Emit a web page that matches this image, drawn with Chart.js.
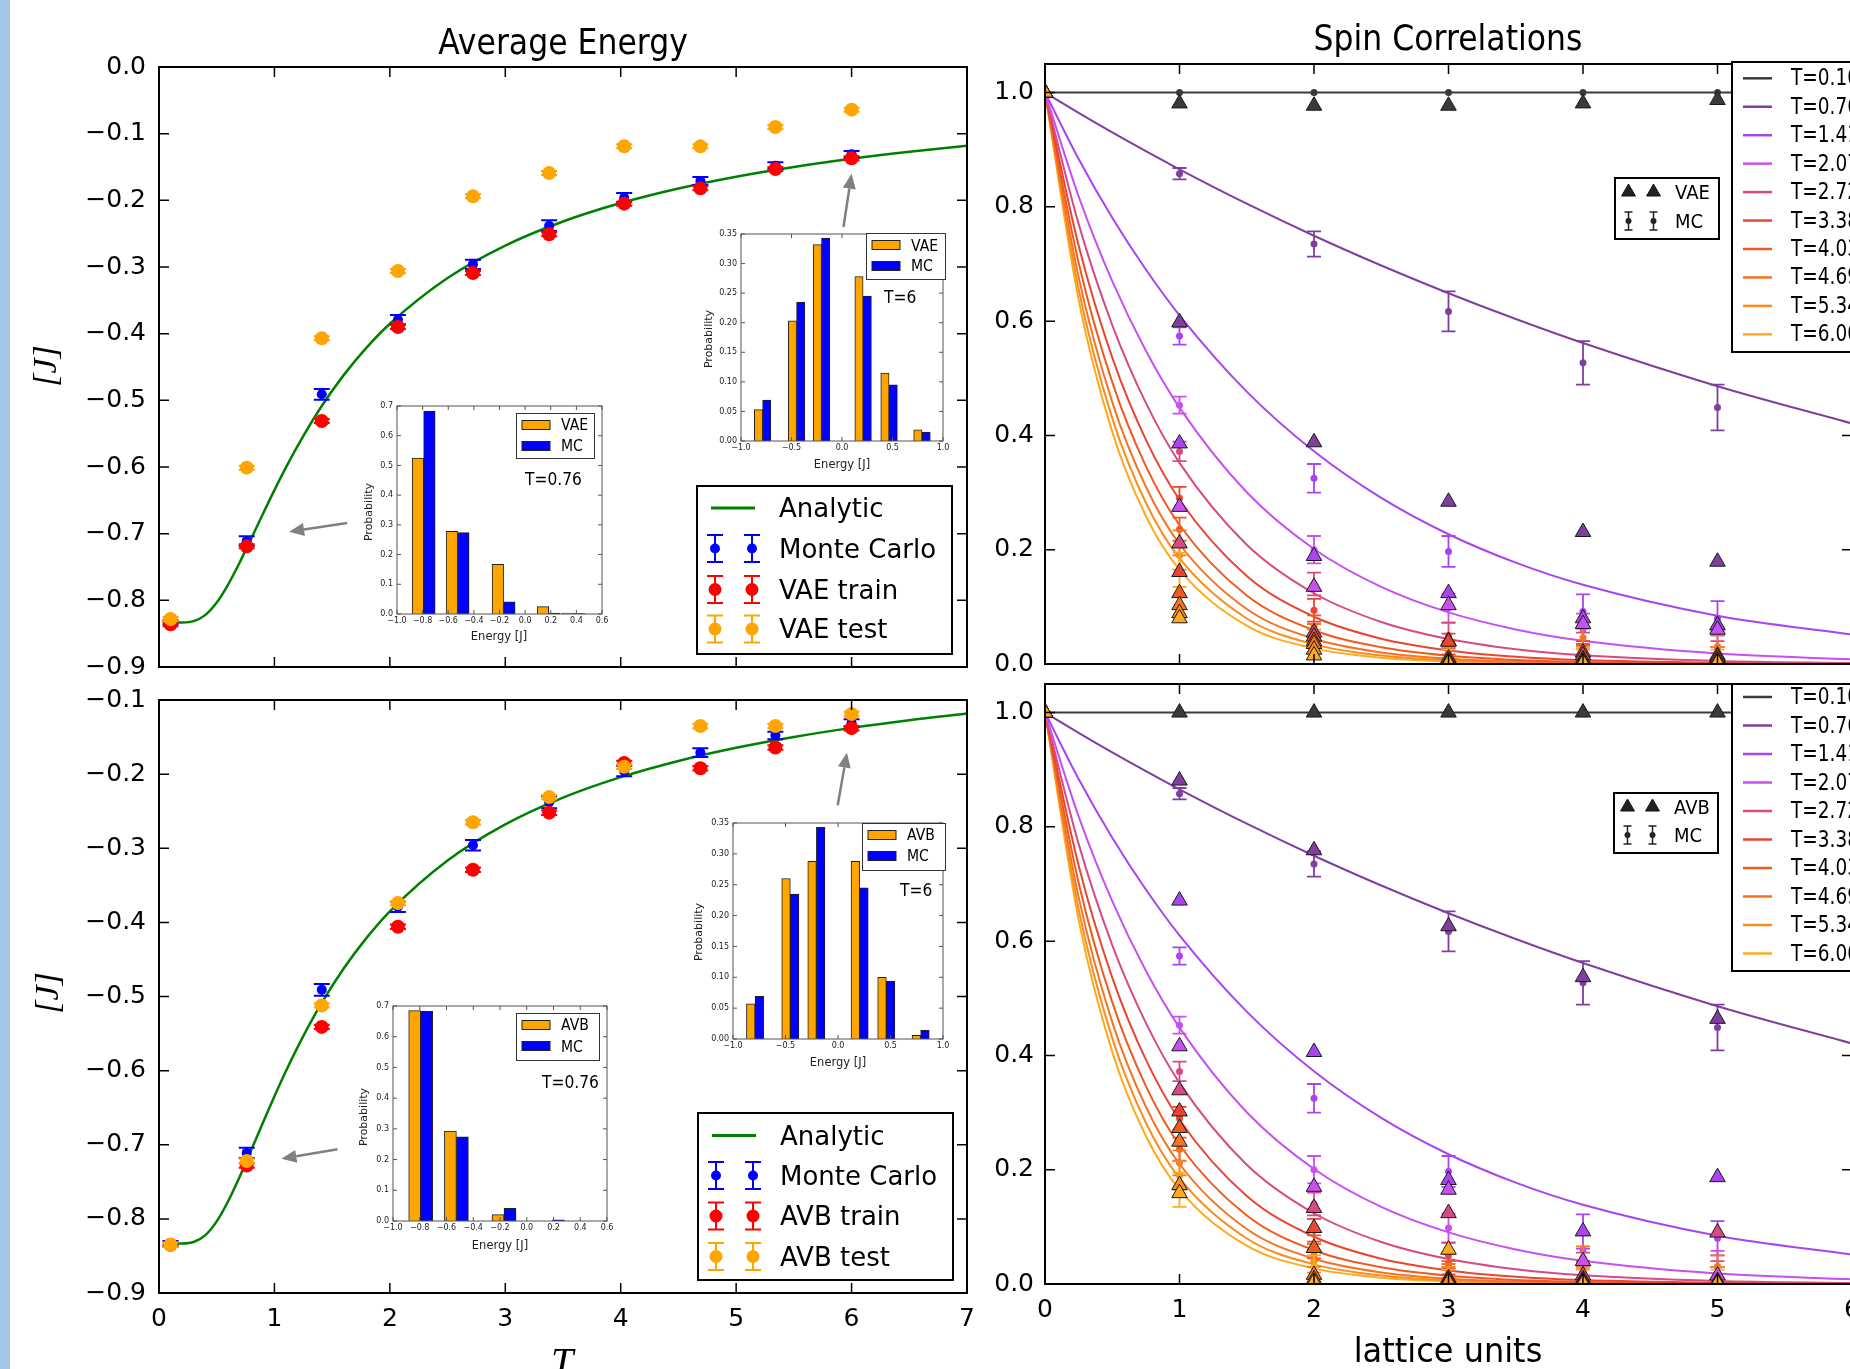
<!DOCTYPE html>
<html>
<head>
<meta charset="utf-8">
<title>Average Energy and Spin Correlations</title>
<script src="https://cdn.jsdelivr.net/npm/chart.js@4.4.1/dist/chart.umd.min.js"></script>
<style>
html,body{margin:0;padding:0;background:#fff;overflow:hidden;width:1850px;height:1369px;}
#stage{position:relative;width:1850px;height:1369px;overflow:hidden;background:#fff;}
.box{position:absolute;}
.box canvas{display:block;}
.txt{position:absolute;white-space:nowrap;color:#000;line-height:1;font-family:'DejaVu Sans',sans-serif;}
.lg{position:absolute;background:#fff;box-sizing:border-box;}
#strip{position:absolute;left:0;top:0;width:10px;height:1369px;background:#a4c6e9;}
#sym{position:absolute;left:0;top:0;}
</style>
</head>
<body>
<div id="stage"><div id="strip"></div></div>
<script>
// ================= DATA =================
const temperatures = [0.10, 0.76, 1.41, 2.07, 2.72, 3.38, 4.03, 4.69, 5.34, 6.00];
const temperatureLabels = ['T=0.10','T=0.76','T=1.41','T=2.07','T=2.72','T=3.38','T=4.03','T=4.69','T=5.34','T=6.00'];

// Average energy (left panels)
const analyticT = [0.1,0.2,0.3,0.4,0.5,0.6,0.7,0.8,0.9,1.0,1.1,1.2,1.4,1.6,1.8,2.0,2.5,3.0,3.5,4.0,4.5,5.0,5.5,6.0,6.5,7.0];
const analyticEnergy = [-0.8333,-0.8332,-0.8312,-0.8222,-0.8034,-0.7759,-0.7428,-0.7069,-0.6704,-0.6347,-0.6006,-0.5686,-0.5111,-0.4622,-0.4206,-0.3851,-0.3166,-0.2679,-0.2318,-0.2041,-0.1822,-0.1645,-0.1499,-0.1376,-0.1272,-0.1183];
const mcEnergy = [-0.833,-0.711,-0.491,-0.379,-0.296,-0.238,-0.196,-0.171,-0.148,-0.131];
const mcEnergyErr = [0.003,0.007,0.008,0.007,0.007,0.008,0.007,0.006,0.005,0.005];
const vaeTrainEnergy = [-0.836,-0.719,-0.531,-0.390,-0.309,-0.251,-0.205,-0.182,-0.153,-0.137];
const vaeTestEnergy = [-0.828,-0.601,-0.407,-0.306,-0.194,-0.159,-0.119,-0.119,-0.090,-0.064];
const avbTrainEnergy = [-0.835,-0.728,-0.541,-0.406,-0.329,-0.252,-0.185,-0.192,-0.164,-0.138];
const avbTestEnergy = [-0.835,-0.722,-0.512,-0.374,-0.265,-0.231,-0.190,-0.135,-0.135,-0.119];
const modelEnergyErr = [0.003,0.003,0.003,0.003,0.003,0.003,0.003,0.003,0.003,0.003];
const vaeEnergyNames = ['Analytic','Monte Carlo','VAE train','VAE test'];
const avbEnergyNames = ['Analytic','Monte Carlo','AVB train','AVB test'];
const energyXTicks = [0,1,2,3,4,5,6,7];
const energyYTicksTop = [0.0,-0.1,-0.2,-0.3,-0.4,-0.5,-0.6,-0.7,-0.8,-0.9];
const energyYTicksBottom = [-0.1,-0.2,-0.3,-0.4,-0.5,-0.6,-0.7,-0.8,-0.9];

// Spin correlations (right panels), rows follow temperatures
const latticeDistance = [0,1,2,3,4,5];
const corrR = [0,0.25,0.5,0.75,1,1.5,2,2.5,3,3.5,4,5,6];
const corrAnalytic = [
  [1,1,1,1,1,1,1,1,1,1,1,1,1],
  [1,0.9646,0.9304,0.8975,0.8657,0.8055,0.7494,0.6973,0.6488,0.6037,0.5617,0.4862,0.4209],
  [1,0.8838,0.7811,0.6903,0.6101,0.4766,0.3722,0.2907,0.2271,0.1774,0.1386,0.0845,0.0516],
  [1,0.8184,0.6699,0.5482,0.4487,0.3006,0.2013,0.1349,0.0903,0.0605,0.0405,0.0182,0.0082],
  [1,0.7702,0.5932,0.4569,0.3519,0.2088,0.1238,0.0735,0.0436,0.0258,0.0153,0.0054,0.0019],
  [1,0.7323,0.5362,0.3926,0.2875,0.1542,0.0827,0.0443,0.0238,0.0127,0.0068,0.0020,0.0006],
  [1,0.7023,0.4932,0.3463,0.2432,0.1199,0.0591,0.0292,0.0144,0.0071,0.0035,0.0008,0.0002],
  [1,0.6770,0.4583,0.3102,0.2100,0.0962,0.0441,0.0202,0.0093,0.0042,0.0019,0.0004,0.0001],
  [1,0.6559,0.4302,0.2822,0.1851,0.0796,0.0343,0.0147,0.0063,0.0027,0.0012,0.0002,0.0000],
  [1,0.6374,0.4063,0.2590,0.1651,0.0671,0.0273,0.0111,0.0045,0.0018,0.0007,0.0001,0.0000]
];
const corrMC = [
  [1,1,1,1,1,1],
  [1,0.858,0.735,0.617,0.527,0.449],
  [1,0.574,0.325,0.197,0.092,0.080],
  [1,0.453,0.200,0.098,0.060,0.030],
  [1,0.372,0.140,0.050,0.030,0.015],
  [1,0.290,0.094,0.035,0.020,0.010],
  [1,0.236,0.065,0.025,0.015,0.010],
  [1,0.212,0.050,0.020,0.046,0.030],
  [1,0.190,0.040,0.015,0.010,0.010],
  [1,0.165,0.030,0.010,0.005,0.005]
];
const corrMCErr = [
  [0,0,0,0,0,0],
  [0,0.010,0.022,0.035,0.038,0.040],
  [0,0.015,0.025,0.027,0.030,0.030],
  [0,0.015,0.024,0.025,0.028,0.028],
  [0,0.017,0.020,0.022,0.025,0.025],
  [0,0.020,0.020,0.018,0.020,0.020],
  [0,0.020,0.020,0.015,0.020,0.020],
  [0,0.022,0.020,0.015,0.020,0.020],
  [0,0.025,0.020,0.015,0.020,0.020],
  [0,0.030,0.020,0.015,0.020,0.020]
];
const corrVAE = [
  [1,0.981,0.977,0.977,0.981,0.987],
  [1,0.598,0.388,0.284,0.231,0.179],
  [1,0.386,0.189,0.124,0.080,0.068],
  [1,0.275,0.135,0.103,0.070,0.060],
  [1,0.211,0.055,0.040,0.020,0.015],
  [1,0.161,0.048,0.039,0.015,0.010],
  [1,0.124,0.040,0.010,0.008,0.012],
  [1,0.103,0.035,0.006,0.005,0.008],
  [1,0.089,0.025,0.004,0.004,0.005],
  [1,0.080,0.015,0.002,0.002,0.003]
];
const corrAVB = [
  [1,1,1,1,1,1],
  [1,0.881,0.759,0.626,0.537,0.464],
  [1,0.671,0.406,0.182,0.092,0.187],
  [1,0.416,0.170,0.165,0.040,0.015],
  [1,0.339,0.133,0.124,0.015,0.090],
  [1,0.302,0.098,0.010,0.008,0.005],
  [1,0.273,0.063,0.008,0.005,0.004],
  [1,0.249,0.016,0.005,0.004,0.003],
  [1,0.173,0.008,0.004,0.003,0.002],
  [1,0.159,0.004,0.060,0.002,0.002]
];
const corrXTicks = [0,1,2,3,4,5,6];
const corrYTicks = [0,0.2,0.4,0.6,0.8,1.0];

// Inset histograms
const histBinsVAE076 = [-0.792,-0.527,-0.168,0.184,0.38];
const histVAE076 = [0.525,0.278,0.167,0.025,0.003];
const histMCa076 = [0.683,0.274,0.041,0.003,0.001];
const histBinsVAE6 = [-0.786,-0.450,-0.203,0.209,0.466,0.792];
const histVAE6 = [0.053,0.203,0.332,0.278,0.115,0.019];
const histMCa6 = [0.069,0.235,0.343,0.245,0.095,0.015];
const histBinsAVB076 = [-0.793,-0.526,-0.170,0.192];
const histAVB076 = [0.685,0.293,0.021,0.0];
const histMCb076 = [0.683,0.274,0.041,0.004];
const histBinsAVB6 = [-0.790,-0.454,-0.206,0.206,0.460,0.787];
const histAVB6 = [0.057,0.260,0.288,0.288,0.100,0.006];
const histMCb6 = [0.069,0.235,0.343,0.245,0.094,0.014];
const histXTicks076 = [-1.0,-0.8,-0.6,-0.4,-0.2,0.0,0.2,0.4,0.6];
const histYTicks076 = [0.0,0.1,0.2,0.3,0.4,0.5,0.6,0.7];
const histXTicks6 = [-1.0,-0.5,0.0,0.5,1.0];
const histYTicks6 = [0.0,0.05,0.10,0.15,0.20,0.25,0.30,0.35];

// Annotation arrows (data coordinates: tail x, tail y, head x, head y)
const arrowsTop = [[1.63,-0.684,1.127,-0.697],[5.93,-0.240,6.0,-0.160]];
const arrowsBottom = [[1.547,-0.706,1.061,-0.719],[5.88,-0.242,5.96,-0.171]];

// ================= STYLE =================
const tempColors = ['#3a3a3a','#7f3f9f','#aa44ee','#c850f0','#d64b86','#e84632','#f05a1e','#f57323','#fa8c1e','#fcaa1e'];
const C_GREEN='#008000', C_BLUE='#0000ff', C_RED='#ff0000', C_ORANGE='#ffa500';

Chart.defaults.font.family = "'DejaVu Sans', sans-serif";
Chart.defaults.color = '#000';

function fmt(v, d){ return Number(v).toFixed(d).replace('-', '\u2212'); }
function tickSetter(arr){ return s => { s.ticks = arr.map(v => ({value: v})); }; }

const errorBarPlugin = {
  id: 'errbars',
  beforeDatasetDraw(chart, args){
    const ds = chart.data.datasets[args.index];
    if (!ds.errorBars) return;
    const {ctx, chartArea: a, scales: {x, y}} = chart;
    ctx.save();
    ctx.beginPath(); ctx.rect(a.left, a.top, a.width, a.height); ctx.clip();
    ctx.strokeStyle = ds.errorColor; ctx.lineWidth = ds.errorWidth || 1.5;
    const c = ds.capHalf || 7;
    ds.data.forEach((p, i) => {
      const e = ds.errorBars[i]; if (!e) return;
      const px = x.getPixelForValue(p.x), y1 = y.getPixelForValue(p.y - e), y2 = y.getPixelForValue(p.y + e);
      ctx.beginPath();
      ctx.moveTo(px, y1); ctx.lineTo(px, y2);
      ctx.moveTo(px - c, y1); ctx.lineTo(px + c, y1);
      ctx.moveTo(px - c, y2); ctx.lineTo(px + c, y2);
      ctx.stroke();
    });
    ctx.restore();
  }
};

const framePlugin = {
  id: 'frame',
  beforeDraw(chart, args, o){
    if (!o || !o.bg) return;
    const a = chart.chartArea, ctx = chart.ctx;
    ctx.save(); ctx.fillStyle = o.bg; ctx.fillRect(a.left, a.top, a.width, a.height); ctx.restore();
  },
  afterDraw(chart, args, o){
    if (!o || !o.color) return;
    const {ctx, chartArea: a, scales: {x, y}} = chart;
    const L = o.tickLen;
    ctx.save();
    ctx.strokeStyle = o.color; ctx.lineWidth = o.tickWidth;
    ctx.beginPath();
    x.ticks.forEach(t => { const px = x.getPixelForValue(t.value);
      ctx.moveTo(px, a.top); ctx.lineTo(px, a.top + L);
      ctx.moveTo(px, a.bottom); ctx.lineTo(px, a.bottom - L); });
    y.ticks.forEach(t => { const py = y.getPixelForValue(t.value);
      ctx.moveTo(a.left, py); ctx.lineTo(a.left + L, py);
      ctx.moveTo(a.right, py); ctx.lineTo(a.right - L, py); });
    ctx.stroke();
    ctx.lineWidth = o.width;
    ctx.strokeRect(a.left, a.top, a.width, a.height);
    ctx.restore();
  }
};

const arrowPlugin = {
  id: 'arrows',
  afterDatasetsDraw(chart, args, o){
    if (!o || !o.list) return;
    const {ctx, scales: {x, y}} = chart;
    ctx.save();
    o.list.forEach(([x1, y1, x2, y2]) => {
      const ax = x.getPixelForValue(x1), ay = y.getPixelForValue(y1);
      const bx = x.getPixelForValue(x2), by = y.getPixelForValue(y2);
      const ang = Math.atan2(by - ay, bx - ax), hl = 15, hw = 6.5;
      const cx = bx - hl * Math.cos(ang), cy = by - hl * Math.sin(ang);
      ctx.strokeStyle = o.color; ctx.fillStyle = o.color; ctx.lineWidth = 2.5;
      ctx.beginPath(); ctx.moveTo(ax, ay); ctx.lineTo(cx, cy); ctx.stroke();
      ctx.beginPath(); ctx.moveTo(bx, by);
      ctx.lineTo(cx + hw * Math.sin(ang), cy - hw * Math.cos(ang));
      ctx.lineTo(cx - hw * Math.sin(ang), cy + hw * Math.cos(ang));
      ctx.closePath(); ctx.fill();
    });
    ctx.restore();
  }
};
Chart.register(errorBarPlugin, framePlugin, arrowPlugin);

const stage = document.getElementById('stage');

function makeChart(box, area, config){
  const div = document.createElement('div');
  div.className = 'box';
  Object.assign(div.style, {left: box.x + 'px', top: box.y + 'px', width: box.w + 'px', height: box.h + 'px'});
  const cv = document.createElement('canvas');
  cv.width = box.w; cv.height = box.h;
  div.appendChild(cv); stage.appendChild(div);
  const padTop = area.t - box.y, padRight = box.x + box.w - area.r;
  const yW = area.l - box.x, xH = box.y + box.h - area.b;
  const o = config.options;
  o.layout = {padding: {top: padTop, right: padRight, left: 0, bottom: 0}};
  o.scales.x.afterFit = s => { s.height = xH; };
  o.scales.y.afterFit = s => { s.width = yW; };
  o.responsive = false; o.animation = false; o.devicePixelRatio = 1; o.events = [];
  o.plugins.legend = {display: false};
  o.plugins.tooltip = {enabled: false};
  return new Chart(cv, config);
}

function pts(xs, ys){ return xs.map((v, i) => ({x: v, y: ys[i]})); }

// ---------- Energy panels ----------
function energyChart(box, area, train, test, yMin, yTicks, showX, arrows){
  return makeChart(box, area, {
    type: 'line',
    data: {datasets: [
      {data: pts(analyticT, analyticEnergy), borderColor: C_GREEN, borderWidth: 2.5, pointRadius: 0, showLine: true, cubicInterpolationMode: 'monotone', fill: false, order: 10},
      {data: pts(temperatures, mcEnergy), showLine: false, pointRadius: 5, pointBackgroundColor: C_BLUE, pointBorderWidth: 0, errorBars: mcEnergyErr, errorColor: C_BLUE, capHalf: 8, errorWidth: 2, order: 3},
      {data: pts(temperatures, train), showLine: false, pointRadius: 7, pointBackgroundColor: C_RED, pointBorderWidth: 0, errorBars: modelEnergyErr, errorColor: C_RED, capHalf: 8, errorWidth: 2, order: 2},
      {data: pts(temperatures, test), showLine: false, pointRadius: 7, pointBackgroundColor: C_ORANGE, pointBorderWidth: 0, errorBars: modelEnergyErr, errorColor: C_ORANGE, capHalf: 8, errorWidth: 2, order: 1}
    ]},
    options: {
      scales: {
        x: {type: 'linear', min: 0, max: 7, afterBuildTicks: tickSetter(energyXTicks),
            ticks: {display: showX, font: {size: 25}, padding: 11, maxRotation: 0, autoSkip: false, callback: v => fmt(v, 0)},
            grid: {display: false, drawTicks: false}, border: {display: false}},
        y: {type: 'linear', min: yMin, max: yTicks[0] === 0 ? 0 : yTicks[0], afterBuildTicks: tickSetter(yTicks),
            ticks: {font: {size: 25}, padding: 13, autoSkip: false, callback: v => fmt(v, 1)},
            grid: {display: false, drawTicks: false}, border: {display: false}}
      },
      plugins: {frame: {color: '#000', width: 2, tickLen: 10, tickWidth: 1.5}, arrows: {list: arrows, color: '#808080'}}
    }
  });
}

// ---------- Spin panels ----------
function spinChart(box, area, model, showX){
  const ds = [];
  temperatures.forEach((T, i) => {
    ds.push({data: pts(corrR, corrAnalytic[i]), borderColor: tempColors[i], borderWidth: 2, pointRadius: 0, showLine: true, cubicInterpolationMode: 'monotone', fill: false, order: 100 + i});
    ds.push({data: pts(latticeDistance, corrMC[i]), showLine: false, pointRadius: 3.5, pointBackgroundColor: tempColors[i], pointBorderWidth: 0, errorBars: corrMCErr[i], errorColor: tempColors[i], capHalf: 7, errorWidth: 1.8, order: 60 - i});
    ds.push({data: pts(latticeDistance, model[i]), showLine: false, pointStyle: 'triangle', pointRadius: 9, pointBackgroundColor: tempColors[i], pointBorderColor: '#1a1a1a', pointBorderWidth: 1, order: 30 - i});
  });
  return makeChart(box, area, {
    type: 'line',
    data: {datasets: ds},
    options: {
      scales: {
        x: {type: 'linear', min: 0, max: 6, afterBuildTicks: tickSetter(corrXTicks),
            ticks: {display: showX, font: {size: 25}, padding: 11, maxRotation: 0, autoSkip: false, callback: v => fmt(v, 0)},
            grid: {display: false, drawTicks: false}, border: {display: false}},
        y: {type: 'linear', min: 0, max: 1.05, afterBuildTicks: tickSetter(corrYTicks),
            ticks: {font: {size: 25}, padding: 11, autoSkip: false, callback: v => fmt(v, 1)},
            grid: {display: false, drawTicks: false}, border: {display: false}}
      },
      plugins: {frame: {color: '#000', width: 2, tickLen: 10, tickWidth: 1.5}}
    }
  });
}

// ---------- Inset histograms ----------
function histChart(box, area, bins, modelVals, mcVals, xMin, xMax, xTicks, yMax, yTicks, xDec, yDec, thick){
  return makeChart(box, area, {
    type: 'bar',
    data: {datasets: [
      {data: pts(bins, modelVals), backgroundColor: C_ORANGE, borderColor: '#222', borderWidth: 1, barThickness: thick},
      {data: pts(bins, mcVals), backgroundColor: C_BLUE, borderColor: '#222', borderWidth: 1, barThickness: thick}
    ]},
    options: {
      scales: {
        x: {type: 'linear', min: xMin, max: xMax, offset: false, afterBuildTicks: tickSetter(xTicks),
            ticks: {font: {size: 8}, color: '#222', padding: 2, maxRotation: 0, minRotation: 0, autoSkip: false, callback: v => fmt(v, xDec)},
            grid: {display: false, drawTicks: false, offset: false}, border: {display: false}},
        y: {type: 'linear', min: 0, max: yMax, afterBuildTicks: tickSetter(yTicks),
            ticks: {font: {size: 8}, color: '#222', padding: 4, autoSkip: false, callback: v => fmt(v, yDec)},
            grid: {display: false, drawTicks: false}, border: {display: false}}
      },
      plugins: {frame: {color: '#555', width: 1, tickLen: 4, tickWidth: 1, bg: '#fff'}}
    }
  });
}

// main panels
energyChart({x: 0, y: 0, w: 1000, h: 700}, {l: 159, t: 67, r: 967, b: 667}, vaeTrainEnergy, vaeTestEnergy, -0.9, energyYTicksTop, false, arrowsTop);
energyChart({x: 0, y: 672, w: 1000, h: 697}, {l: 159, t: 695, r: 967, b: 1293}, avbTrainEnergy, avbTestEnergy, -0.9, energyYTicksBottom, true, arrowsBottom);
spinChart({x: 980, y: 0, w: 900, h: 700}, {l: 1045, t: 64, r: 1852, b: 664}, corrVAE, false);
spinChart({x: 980, y: 650, w: 900, h: 719}, {l: 1045, t: 684, r: 1852, b: 1284}, corrAVB, true);

// insets
histChart({x: 340, y: 395, w: 280, h: 250}, {l: 397, t: 406, r: 602, b: 614}, histBinsVAE076, histVAE076, histMCa076, -1.0, 0.6, histXTicks076, 0.7, histYTicks076, 1, 1, 11.5);
histChart({x: 690, y: 222, w: 270, h: 245}, {l: 741, t: 234, r: 943, b: 441}, histBinsVAE6, histVAE6, histMCa6, -1.0, 1.0, histXTicks6, 0.35, histYTicks6, 1, 2, 8.3);
histChart({x: 340, y: 995, w: 285, h: 250}, {l: 393, t: 1006, r: 607, b: 1221}, histBinsAVB076, histAVB076, histMCb076, -1.0, 0.6, histXTicks076, 0.7, histYTicks076, 1, 1, 12);
histChart({x: 680, y: 810, w: 280, h: 250}, {l: 733, t: 823, r: 943, b: 1039}, histBinsAVB6, histAVB6, histMCb6, -1.0, 1.0, histXTicks6, 0.35, histYTicks6, 1, 2, 8.6);

// ================= LEGENDS & TEXT =================
function addBox(x, y, w, h, bw, color){
  const d = document.createElement('div'); d.className = 'lg';
  Object.assign(d.style, {left: x + 'px', top: y + 'px', width: w + 'px', height: h + 'px', border: bw + 'px solid ' + color});
  stage.appendChild(d);
}
function addText(str, x, y, size, opt = {}){
  const d = document.createElement('div'); d.className = 'txt'; d.textContent = str;
  d.style.left = x + 'px'; d.style.top = y + 'px'; d.style.fontSize = size + 'px';
  if (opt.family) d.style.fontFamily = opt.family;
  if (opt.style) d.style.fontStyle = opt.style;
  if (opt.color) d.style.color = opt.color;
  const tx = opt.align === 'center' ? '-50%' : '0';
  d.style.transformOrigin = opt.align === 'center' ? '50% 50%' : '0 50%';
  d.style.transform = 'translate(' + tx + ',-50%)' + (opt.rotate ? ' rotate(' + opt.rotate + 'deg)' : '') + (opt.sy ? ' scaleY(' + opt.sy + ')' : '');
  stage.appendChild(d);
}

// legend frames (drawn before symbols)
addBox(696, 485, 257, 170, 2, '#000');
addBox(697, 1112, 257, 169, 2, '#000');
addBox(1731, 61, 200, 292, 2, '#000');
addBox(1731, 683, 200, 289, 2, '#000');
addBox(1614, 177, 106, 63, 2, '#000');
addBox(1613, 792, 106, 62, 2, '#000');
addBox(516, 413, 79, 46, 1, '#333');
addBox(866, 233, 80, 47, 1, '#333');
addBox(516, 1013, 84, 48, 1, '#333');
addBox(862, 823, 84, 48, 1, '#333');

const NS = 'http://www.w3.org/2000/svg';
const svg = document.createElementNS(NS, 'svg');
svg.setAttribute('id', 'sym'); svg.setAttribute('width', 1850); svg.setAttribute('height', 1369);
stage.appendChild(svg);
function el(tag, attrs){ const e = document.createElementNS(NS, tag); for (const k in attrs) e.setAttribute(k, attrs[k]); svg.appendChild(e); return e; }
function seg(x1, y1, x2, y2, c, w){ el('line', {x1, y1, x2, y2, stroke: c, 'stroke-width': w}); }
function errSym(x, y, c, r, half, cap, w){
  seg(x, y - half, x, y + half, c, w); seg(x - cap, y - half, x + cap, y - half, c, w); seg(x - cap, y + half, x + cap, y + half, c, w);
  el('circle', {cx: x, cy: y, r, fill: c});
}
function triSym(x, y, r, fill){
  el('polygon', {points: [x, y - r, x + r * 0.866, y + r / 2, x - r * 0.866, y + r / 2].join(','), fill, stroke: '#111', 'stroke-width': 1});
}

// main energy legends
function energyLegend(bx, by, ys, names){
  seg(bx + 15, by + ys[0], bx + 59, by + ys[0], C_GREEN, 3);
  [C_BLUE, C_RED, C_ORANGE].forEach((c, k) => {
    const y = by + ys[k + 1];
    [19, 56].forEach(dx => errSym(bx + dx, y, c, k === 0 ? 5 : 6.5, 13.5, 8, 2));
  });
  names.forEach((n, k) => addText(n, bx + 83, by + ys[k], 26, {sy: 1.05}));
}
// right legends
function tempLegend(bx, by, y0, step){
  temperatures.forEach((T, i) => {
    const y = by + y0 + step * i;
    seg(bx + 12, y, bx + 41, y, tempColors[i], 2.5);
    addText(temperatureLabels[i], bx + 60, y, 18.5, {sy: 1.2});
  });
}
function markerLegend(bx, by, yt, ym, name){
  [14.5, 39.5].forEach(dx => { triSym(bx + dx, by + yt, 8, '#222'); errSym(bx + dx, by + ym, '#222', 3, 9, 4, 1.5); });
  addText(name, bx + 61, by + yt, 18, {sy: 1.1});
  addText('MC', bx + 61, by + ym, 18, {sy: 1.1});
}
function histLegend(bx, by, name){
  el('rect', {x: bx + 6, y: by + 7.5, width: 28, height: 9, fill: C_ORANGE, stroke: '#222', 'stroke-width': 1});
  el('rect', {x: bx + 6, y: by + 28.5, width: 28, height: 9, fill: C_BLUE, stroke: '#222', 'stroke-width': 1});
  addText(name, bx + 45, by + 12, 14, {sy: 1.1});
  addText('MC', bx + 45, by + 33, 14, {sy: 1.1});
}

energyLegend(696, 485, [23, 63.5, 104.5, 144], vaeEnergyNames);
energyLegend(697, 1112, [23.5, 63.5, 104, 144.5], avbEnergyNames);
tempLegend(1731, 61, 17.3, 28.45);
tempLegend(1731, 683, 14, 28.5);
markerLegend(1614, 177, 15, 44, 'VAE');
markerLegend(1613, 792, 15, 43, 'AVB');
histLegend(516, 413, 'VAE');
histLegend(866, 233, 'VAE');
histLegend(516, 1013, 'AVB');
histLegend(862, 823, 'AVB');

// titles and axis labels
addText('Average Energy', 563, 43, 31.5, {align: 'center', sy: 1.1});
addText('Spin Correlations', 1448, 39, 31.5, {align: 'center', sy: 1.1});
addText('lattice units', 1448, 1350, 32, {align: 'center', sy: 1.05});
addText('T', 562, 1362, 40, {align: 'center', family: "'Liberation Serif', serif", style: 'italic'});
addText('[J]', 45, 366, 34, {align: 'center', rotate: -90, family: "'Liberation Serif', serif", style: 'italic'});
addText('[J]', 47, 993, 34, {align: 'center', rotate: -90, family: "'Liberation Serif', serif", style: 'italic'});

// inset labels
addText('Probability', 368, 512, 11, {align: 'center', rotate: -90, color: '#222'});
addText('Energy [J]', 499, 637, 11.5, {align: 'center', color: '#222'});
addText('T=0.76', 525, 480, 15.5, {sy: 1.15});
addText('Probability', 708, 339, 11, {align: 'center', rotate: -90, color: '#222'});
addText('Energy [J]', 842, 465, 11.5, {align: 'center', color: '#222'});
addText('T=6', 884, 298, 15.5, {sy: 1.15});
addText('Probability', 363, 1117, 11, {align: 'center', rotate: -90, color: '#222'});
addText('Energy [J]', 500, 1246, 11.5, {align: 'center', color: '#222'});
addText('T=0.76', 542, 1083, 15.5, {sy: 1.15});
addText('Probability', 698, 932, 11, {align: 'center', rotate: -90, color: '#222'});
addText('Energy [J]', 838, 1063, 11.5, {align: 'center', color: '#222'});
addText('T=6', 900, 891, 15.5, {sy: 1.15});
</script>
</body>
</html>
